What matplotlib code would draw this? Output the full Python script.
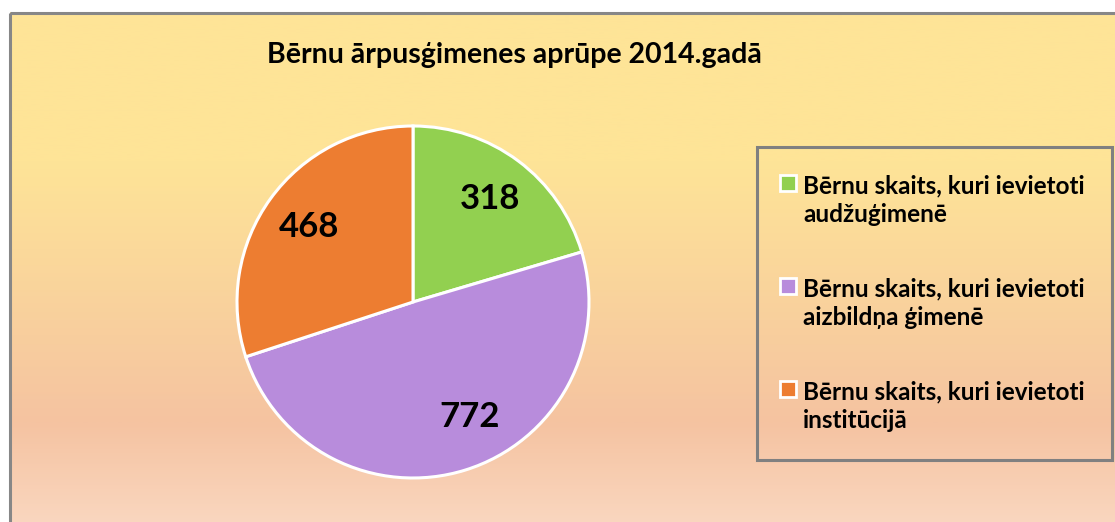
import numpy as np
import matplotlib
matplotlib.use("Agg")
import matplotlib.pyplot as plt
from matplotlib.colors import LinearSegmentedColormap
from matplotlib.patches import Rectangle

plt.rcParams['font.family'] = ['Lato', 'DejaVu Sans']

TITLE = "Bērnu ārpusģimenes aprūpe 2014.gadā"
categories = [
    "Bērnu skaits, kuri ievietoti\naudžuģimenē",
    "Bērnu skaits, kuri ievietoti\naizbildņa ģimenē",
    "Bērnu skaits, kuri ievietoti\ninstitūcijā",
]
values = [318, 772, 468]
colors = ["#92D050", "#B88CDC", "#ED7D31"]

W, H = 1115, 522
fig = plt.figure(figsize=(W / 100, H / 100), dpi=100)
fig.patch.set_facecolor("white")

# background axes in pixel coordinates (y pointing down)
ax_bg = fig.add_axes([0, 0, 1, 1])
ax_bg.set_xlim(0, W)
ax_bg.set_ylim(H, 0)
ax_bg.axis("off")

# chart area gradient
grad = LinearSegmentedColormap.from_list(
    "bg", [(0.0, "#FEE497"), (0.29, "#FEE497"), (0.80, "#F5C3A1"), (1.0, "#FAD7C0")])
top, left = 12.5, 9.5
g = np.linspace(0, 1, 400).reshape(-1, 1)
ax_bg.imshow(g, cmap=grad, aspect="auto", extent=[left, W + 5, H + 5, top], zorder=0)
ax_bg.add_patch(Rectangle((left, top), W, H, fill=False, edgecolor="#878787", lw=2.2, zorder=1))

ax_bg.text(514, 63, TITLE, ha="center", va="baseline", fontsize=20.5, fontweight="bold", color="black")

# pie
cx, cy, r = 413, 302, 176
lim = 1.05
size = 2 * r * lim
ax_pie = fig.add_axes([(cx - size / 2) / W, (H - cy - size / 2) / H, size / W, size / H])
wedges, _ = ax_pie.pie(values, colors=colors, startangle=90, counterclock=False,
                       wedgeprops=dict(edgecolor="white", linewidth=2.2))
ax_pie.set_xlim(-lim, lim)
ax_pie.set_ylim(-lim, lim)
ax_pie.set_aspect("equal")
ax_pie.axis("off")

label_nudge = [0, 9, 0]  # degrees, Excel best-fit placement
for w, v, nd in zip(wedges, values, label_nudge):
    ang = np.deg2rad((w.theta1 + w.theta2) / 2 + nd)
    ax_pie.text(0.73 * np.cos(ang), 0.73 * np.sin(ang), str(v), ha="center", va="center",
                fontsize=25, fontweight="bold", color="black")

# legend box
ax_bg.add_patch(Rectangle((757, 147), 355, 313, fill=False, edgecolor="#808080", lw=2.2, zorder=3))
for i, (lab, col) in enumerate(zip(categories, colors)):
    y0 = 193 + i * 103
    ax_bg.add_patch(Rectangle((780, y0 - 18), 16, 16, facecolor=col, edgecolor="white", lw=2.0, zorder=4))
    for j, line in enumerate(lab.split("\n")):
        ax_bg.text(803, y0 + j * 29, line, ha="left", va="baseline", fontsize=17.5,
                   fontweight="bold", color="black", zorder=4)

fig.savefig("out.png", dpi=100)
